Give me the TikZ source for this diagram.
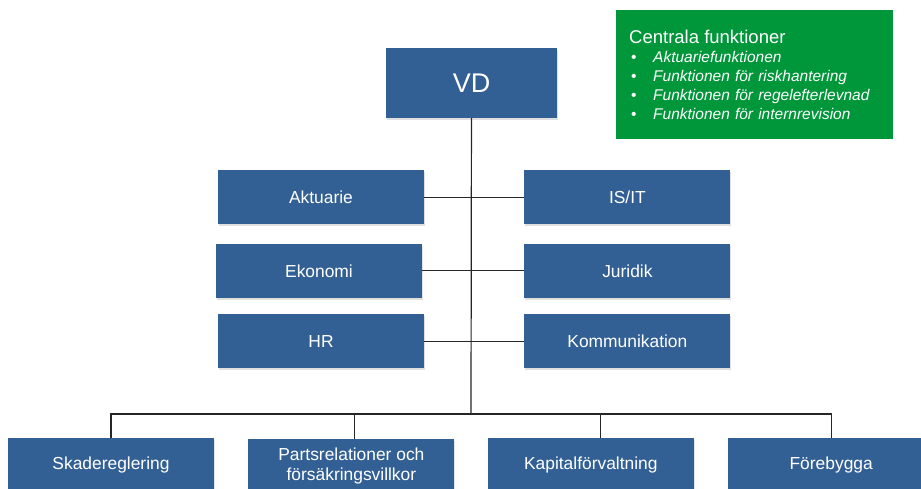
\documentclass[tikz,border=0pt]{standalone}
\usepackage{fontspec}
\setmainfont{Liberation Sans}
\usetikzlibrary{positioning,shadows}
\definecolor{unitblue}{HTML}{336094}
\definecolor{funcgreen}{HTML}{00963A}
\tikzset{
  unit/.style={rectangle, fill=unitblue, text=white, align=center,
    minimum width=206pt, minimum height=54pt, inner sep=2pt,
    font=\fontsize{17.4}{20}\selectfont,
    drop shadow={opacity=0.25, shadow xshift=1pt, shadow yshift=-2pt}},
  link/.style={draw=black!85, line width=1.2pt}
}
\begin{document}
\begin{tikzpicture}[x=1pt, y=-1pt]
  \useasboundingbox (0,0) rectangle (921,488);
  \clip (0,0) rectangle (921,488);
  % top
  \node (vd) [unit, minimum width=171pt, minimum height=70pt, font=\fontsize{27}{30}\selectfont] at (471.5,83) {VD};
  \node (centrala) [rectangle, fill=funcgreen, text=white, anchor=north west, minimum width=277pt, minimum height=129pt,
    text width=251pt, inner xsep=13pt, inner ysep=0pt, align=left, font=\fontsize{15.5}{19}\selectfont] at (616,10)
    {{\fontsize{18.5}{19}\selectfont Centrala funktioner}\\
     \hspace*{2pt}\makebox[22pt][l]{•}\textit{Aktuariefunktionen}\\
     \hspace*{2pt}\makebox[22pt][l]{•}\textit{Funktionen för riskhantering}\\
     \hspace*{2pt}\makebox[22pt][l]{•}\textit{Funktionen för regelefterlevnad}\\
     \hspace*{2pt}\makebox[22pt][l]{•}\textit{Funktionen för internrevision}};
  % staff units
  \node (aktuarie) [unit, below=52pt of vd, xshift=-150.5pt] {Aktuarie};
  \node (ekonomi) [unit, below=19pt of aktuarie, xshift=-2pt] {Ekonomi};
  \node (hr) [unit, below=16pt of ekonomi, xshift=2pt] {HR};
  \node (isit) [unit, right=100pt of aktuarie] {IS/IT};
  \node (juridik) [unit, right=102pt of ekonomi] {Juridik};
  \node (komm) [unit, right=100pt of hr] {Kommunikation};
  % line units
  \node (skade) [unit, anchor=north] at (111,438) {Skadereglering};
  \node (parts) [unit, right=34pt of skade, yshift=-1pt] {Partsrelationer och\\försäkringsvillkor};
  \node (kapital) [unit, right=33pt of parts, yshift=1pt] {Kapitalförvaltning};
  \node (forebygga) [unit, right=34pt of kapital] {Förebygga};
  \coordinate (bus) at (471,414);

  \draw[link] (vd) -- (bus);
  \draw[link] (aktuarie) -- (isit);
  \draw[link] (ekonomi) -- (juridik);
  \draw[link] (hr) -- (komm);
  \draw[link] (skade.north) |- (bus) -| (forebygga.north);
  \draw[link] ([xshift=3pt]parts.north) -- ([xshift=3pt]parts.north |- bus);
  \draw[link] ([xshift=10pt]kapital.north) -- ([xshift=10pt]kapital.north |- bus);
\end{tikzpicture}
\end{document}
